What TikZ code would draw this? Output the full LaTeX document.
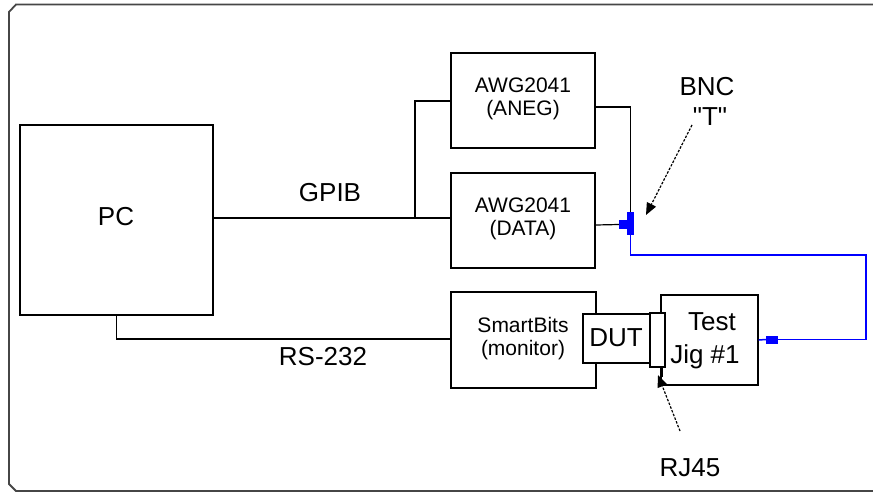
\documentclass[tikz,border=0pt]{standalone}
\usepackage{fontspec}
\setmainfont{Liberation Sans}
\newfontfamily\qfont{Liberation Sans}
\usetikzlibrary{arrows.meta}
\definecolor{framegray}{RGB}{70,70,70}
\definecolor{bncblue}{RGB}{0,0,255}
\tikzset{
  box/.style={draw=black, line width=1.4pt, fill=white, rectangle, inner sep=0pt},
  wire/.style={draw=black, line width=1.2pt},
  bluewire/.style={draw=bncblue, line width=1.5pt},
  bluepart/.style={fill=bncblue, draw=none, rectangle, inner sep=0pt},
  bigtxt/.style={font=\fontsize{26}{30}\selectfont, inner sep=0pt},
  midtxt/.style={font=\fontsize{21}{23}\selectfont, inner sep=0pt, align=center},
  pointer/.style={draw=black, line width=1.2pt, dash pattern=on 2.5pt off 1.5pt, -{Triangle[length=12pt,width=10pt]}}
}
\begin{document}
\begin{tikzpicture}[x=1pt,y=-1pt]
\useasboundingbox (0,0) rectangle (873,493);
% frame
\draw[framegray, line width=1.8pt] (880,4.5) -- (16,4.5) -- (9,12) -- (9,484) -- (16,491) -- (880,491);
% boxes
\node[box, minimum width=193pt, minimum height=190pt] (pc) at (116.5,220) {};
\node[bigtxt] (pct) at (116,217) {PC};
\node[box, minimum width=144pt, minimum height=95pt] (aneg) at (523,100.5) {};
\node[midtxt] (anegt) at (523,99) {AWG2041\\(ANEG)};
\node[box, minimum width=144pt, minimum height=95pt] (data) at (523,220.5) {};
\node[midtxt] (datat) at (523,219) {AWG2041\\(DATA)};
\node[box, minimum width=145pt, minimum height=96pt] (sb) at (523.5,340) {};
\node[midtxt] (sbt) at (523,339) {SmartBits\\(monitor)};
\node[box, minimum width=97pt, minimum height=90pt] (jig) at (709.5,340) {};
\node[bigtxt] (jigt1) at (712,322) {Test};
\node[bigtxt] (jigt2) at (705,357) {Jig \#1};
\node[box, minimum width=67pt, minimum height=49pt] (dut) at (616.5,338.5) {};
\node[bigtxt] (dutt) at (616,338) {DUT};
\node[box, minimum width=15pt, minimum height=54pt] (rj) at (657.5,340) {};
% tee connector
\node[bluepart, minimum width=8pt, minimum height=9pt] (teeh) at (623,224.5) {};
\node[bluepart, minimum width=7pt, minimum height=23pt] (teev) at (630.5,223.5) {};
\node[bluepart, minimum width=12pt, minimum height=8pt] (jc) at (772,339.5) {};
% wires
\coordinate (j) at (415,218);
\draw[wire] (pc.east |- j) -- (j) -- (data.west |- j);
\draw[wire] (j) |- (aneg.west |- 0,101);
\draw[wire] (aneg.east |- 0,107) -| (teev.north);
\draw[wire] (data.east |- 0,225) -- (teeh.west);
\draw[wire] (pc.south) |- (sb.west |- 0,339);
\coordinate (b1) at (630.5,255);
\coordinate (b2) at (866,255);
\draw[bluewire] (teev.south) -- (b1) -- (b2) |- (jc.east);
\draw[bluewire] (jc.west) -- (jig.east);
% labels
\node[bigtxt] (gpib) at (330,193) {GPIB};
\node[bigtxt] (rs) at (323,357) {RS-232};
\node[bigtxt] (bnc) at (707,87) {BNC};
\node[bigtxt] (bnct) at (710,117) {\qfont "T"};
\node[bigtxt] (rjt) at (690,468) {RJ45};
% pointers
\coordinate (p1) at (692,125);
\coordinate (p1e) at (646,215);
\draw[pointer] (p1) -- (p1e);
\coordinate (p2) at (680,431);
\coordinate (p2e) at (658,375);
\draw[pointer] (p2) -- (p2e);
\draw[wire] (rj.south -| 662,0) -- (662,377);
\end{tikzpicture}
\end{document}
